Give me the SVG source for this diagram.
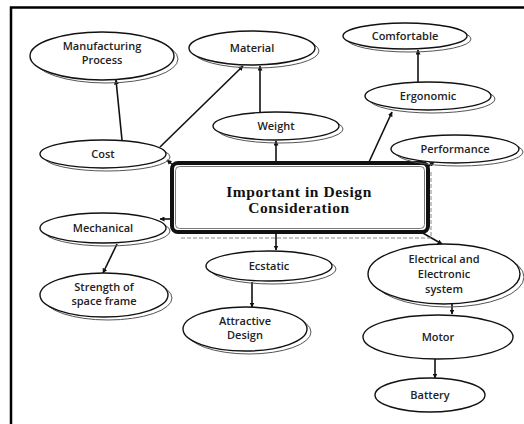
<svg xmlns="http://www.w3.org/2000/svg" width="524" height="424" viewBox="0 0 524 424">
<defs>
<marker id="ah" viewBox="0 0 10 10" refX="9" refY="5" markerWidth="5" markerHeight="5" orient="auto" markerUnits="userSpaceOnUse">
<path d="M0,0 L10,5 L0,10 z" fill="#111"/>
</marker>
<style>
.sh{fill:none;stroke:#555;stroke-width:1}
.el{fill:#fff;stroke:#111;stroke-width:1.4}
.t{font-family:"Open Sans","DejaVu Sans",sans-serif;font-size:11px;font-weight:600;fill:#222;text-anchor:middle}
.c{stroke:#111;stroke-width:1.6;fill:none;marker-end:url(#ah)}
.ct{font-family:"Liberation Serif","Times New Roman",serif;font-size:15.5px;font-weight:bold;fill:#111;text-anchor:middle;letter-spacing:0.6px}
</style>
</defs>
<rect width="524" height="424" fill="#fff"/>
<path d="M11,424 V7.5 H524" fill="none" stroke="#000" stroke-width="2.5"/>

<g id="connectors">
<line class="c" x1="122" y1="140" x2="116" y2="80"/>
<line class="c" x1="160" y1="147" x2="243" y2="66"/>
<line class="c" x1="260" y1="112" x2="260" y2="66"/>
<line class="c" x1="276" y1="162" x2="276" y2="141"/>
<line class="c" x1="369" y1="162" x2="392" y2="112"/>
<line class="c" x1="418" y1="82" x2="418" y2="50"/>
<line class="c" x1="427" y1="167" x2="434" y2="162"/>
<line class="c" x1="173" y1="165" x2="167" y2="160"/>
<line class="c" x1="172" y1="219" x2="160" y2="219"/>
<line class="c" x1="117" y1="244" x2="103" y2="273"/>
<line class="c" x1="276" y1="233" x2="276" y2="250"/>
<line class="c" x1="252" y1="282" x2="252" y2="307"/>
<line class="c" x1="421" y1="232" x2="442" y2="244"/>
<line class="c" x1="452" y1="304" x2="452" y2="314"/>
<line class="c" x1="435" y1="359" x2="435" y2="378"/>
</g>

<g id="center">
<path d="M431,172 V238 H180" fill="none" stroke="#888" stroke-width="1" stroke-dasharray="4,2"/>
<rect x="172" y="163" width="256" height="69" rx="6" fill="#fff" stroke="#111" stroke-width="4"/>
<rect x="175.5" y="166.5" width="249" height="62" rx="4" fill="none" stroke="#777" stroke-width="1"/>
<text class="ct" x="299" y="197">Important in Design</text>
<text class="ct" x="299" y="213">Consideration</text>
</g>

<g id="manufacturing">
<ellipse class="sh" cx="106" cy="59" rx="72" ry="24"/>
<ellipse class="el" cx="102" cy="56" rx="72" ry="24"/>
<text class="t" x="102" y="50">Manufacturing</text>
<text class="t" x="102" y="64">Process</text>
</g>
<g id="material">
<ellipse class="sh" cx="256" cy="51" rx="63" ry="17"/>
<ellipse class="el" cx="252" cy="48" rx="63" ry="17"/>
<text class="t" x="252" y="52">Material</text>
</g>
<g id="comfortable">
<ellipse class="sh" cx="409" cy="39" rx="62" ry="13"/>
<ellipse class="el" cx="405" cy="36" rx="62" ry="13"/>
<text class="t" x="405" y="39.5">Comfortable</text>
</g>
<g id="ergonomic">
<ellipse class="sh" cx="432" cy="99" rx="63" ry="14"/>
<ellipse class="el" cx="428" cy="96" rx="63" ry="14"/>
<text class="t" x="428" y="99.5">Ergonomic</text>
</g>
<g id="weight">
<ellipse class="sh" cx="280" cy="129" rx="63" ry="14"/>
<ellipse class="el" cx="276" cy="126" rx="63" ry="14"/>
<text class="t" x="276" y="129.5">Weight</text>
</g>
<g id="performance">
<ellipse class="sh" cx="459" cy="152" rx="64" ry="14"/>
<ellipse class="el" cx="455" cy="149" rx="64" ry="14"/>
<text class="t" x="455" y="152.5">Performance</text>
</g>
<g id="cost">
<ellipse class="sh" cx="107" cy="157" rx="63" ry="14"/>
<ellipse class="el" cx="103" cy="154" rx="63" ry="14"/>
<text class="t" x="103" y="157.5">Cost</text>
</g>
<g id="mechanical">
<ellipse class="sh" cx="107" cy="231" rx="63" ry="15"/>
<ellipse class="el" cx="103" cy="228" rx="63" ry="15"/>
<text class="t" x="103" y="231.5">Mechanical</text>
</g>
<g id="strength">
<ellipse class="sh" cx="108" cy="298" rx="64" ry="22"/>
<ellipse class="el" cx="104" cy="295" rx="64" ry="22"/>
<text class="t" x="104" y="291">Strength of</text>
<text class="t" x="104" y="305">space frame</text>
</g>
<g id="ecstatic">
<ellipse class="sh" cx="273" cy="269" rx="63" ry="15"/>
<ellipse class="el" cx="269" cy="266" rx="63" ry="15"/>
<text class="t" x="269" y="269.5">Ecstatic</text>
</g>
<g id="attractive">
<ellipse class="sh" cx="249" cy="332" rx="62" ry="22"/>
<ellipse class="el" cx="245" cy="329" rx="62" ry="22"/>
<text class="t" x="245" y="325">Attractive</text>
<text class="t" x="245" y="339">Design</text>
</g>
<g id="electrical">
<ellipse class="sh" cx="448" cy="277" rx="76" ry="30"/>
<ellipse class="el" cx="444" cy="274" rx="76" ry="30"/>
<text class="t" x="444" y="263">Electrical and</text>
<text class="t" x="444" y="278">Electronic</text>
<text class="t" x="444" y="293">system</text>
</g>
<g id="motor">
<ellipse class="el" cx="438" cy="337" rx="75" ry="22"/>
<text class="t" x="438" y="340.5">Motor</text>
</g>
<g id="battery">
<ellipse class="el" cx="430" cy="395" rx="55" ry="17"/>
<text class="t" x="430" y="398.5">Battery</text>
</g>
</svg>
